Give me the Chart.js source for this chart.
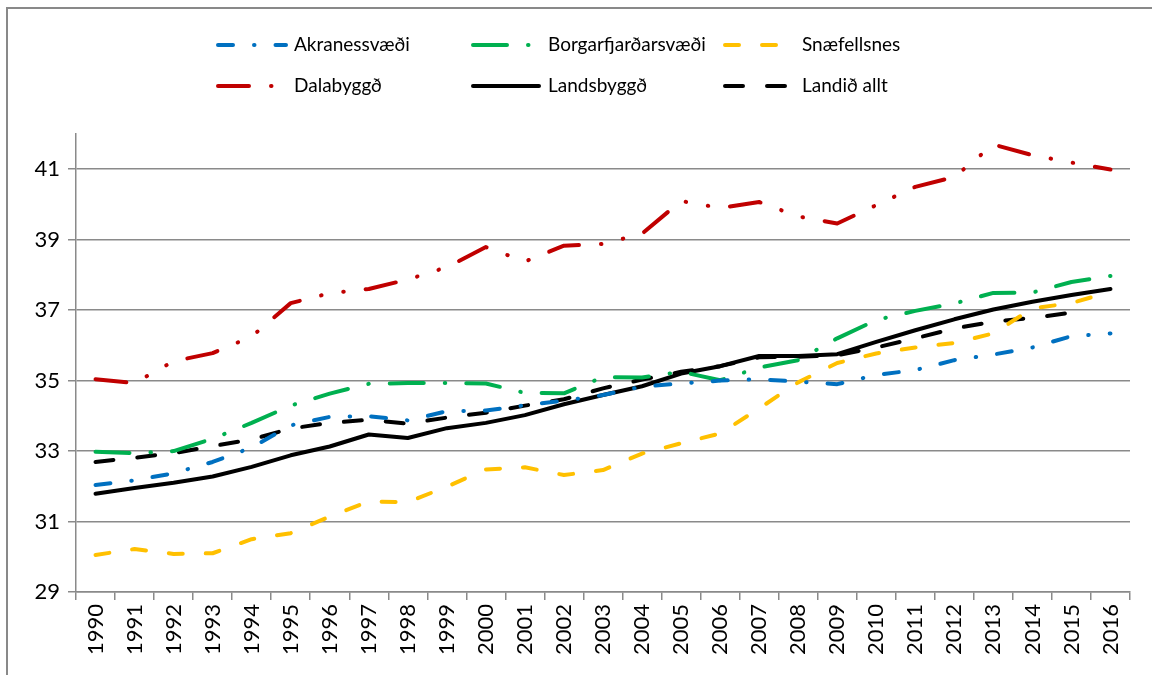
<!DOCTYPE html>
<html>
<head>
<meta charset="utf-8">
<script src="https://cdn.jsdelivr.net/npm/chart.js@4.4.0/dist/chart.umd.min.js"></script>
<style>
    html, body { margin: 0; padding: 0; background: #fff; overflow: hidden; }
    #wrap { position: relative; width: 1152px; height: 675px; }
    #frame {
        position: absolute; left: 6px; top: 7px; width: 1200px; height: 700px;
        border-top: 2px solid #898989; border-left: 2px solid #898989;
        pointer-events: none;
    }
    canvas { position: absolute; left: 0; top: 0; }
</style>
</head>
<body>
<div id="wrap">
    <div id="frame"></div>
    <canvas id="chart" width="1152" height="675"></canvas>
</div>
<script>
// --- gögn ---
const years = ['1990', '1991', '1992', '1993', '1994', '1995', '1996', '1997', '1998', '1999',
    '2000', '2001', '2002', '2003', '2004', '2005', '2006', '2007', '2008', '2009',
    '2010', '2011', '2012', '2013', '2014', '2015', '2016'];

const akranes = [32.04, 32.17, 32.37, 32.69, 33.10, 33.73, 33.97, 33.99, 33.87, 34.13,
    34.15, 34.30, 34.43, 34.59, 34.83, 34.92, 35.00, 35.04, 34.97, 34.90,
    35.16, 35.30, 35.58, 35.74, 35.94, 36.26, 36.34];
const borgarfjordur = [32.98, 32.94, 33.00, 33.35, 33.80, 34.29, 34.63, 34.91, 34.93, 34.93,
    34.92, 34.65, 34.64, 35.10, 35.09, 35.25, 35.01, 35.37, 35.58, 36.20,
    36.72, 36.98, 37.19, 37.49, 37.50, 37.80, 37.97];
const snaefellsnes = [30.05, 30.22, 30.08, 30.10, 30.50, 30.67, 31.14, 31.57, 31.55, 31.99,
    32.48, 32.54, 32.32, 32.46, 32.93, 33.22, 33.50, 34.21, 34.95, 35.50,
    35.77, 35.94, 36.07, 36.34, 37.05, 37.20, 37.52];
const dalabyggd = [35.04, 34.93, 35.55, 35.78, 36.25, 37.20, 37.48, 37.60, 37.87, 38.22,
    38.79, 38.38, 38.83, 38.88, 39.17, 40.10, 39.90, 40.07, 39.66, 39.46,
    39.98, 40.50, 40.78, 41.70, 41.40, 41.19, 40.99];
const landsbyggd = [31.79, 31.95, 32.10, 32.28, 32.55, 32.88, 33.13, 33.47, 33.37, 33.65,
    33.80, 34.02, 34.33, 34.59, 34.84, 35.20, 35.41, 35.70, 35.70, 35.75,
    36.10, 36.43, 36.74, 37.02, 37.24, 37.43, 37.60];
const landidAllt = [32.69, 32.81, 32.94, 33.14, 33.33, 33.64, 33.80, 33.89, 33.78, 33.95,
    34.09, 34.29, 34.47, 34.78, 35.03, 35.25, 35.41, 35.66, 35.68, 35.72,
    35.94, 36.20, 36.48, 36.67, 36.78, 36.93, null];

const yTicks = [29, 31, 33, 35, 37, 39, 41];

Chart.defaults.font.family = 'Lato';
Chart.defaults.color = '#000';

const gridGray = '#8a8a8a';

function line(label, data, color, dash) {
    return {
        label: label,
        data: data,
        borderColor: color,
        backgroundColor: color,
        borderWidth: 4,
        borderDash: dash,
        borderCapStyle: 'round',
        borderJoinStyle: 'round',
        pointRadius: 0,
        tension: 0,
        fill: false
    };
}

// --- legend eins og í Excel: 3 dálkar, 2 raðir ---
const excelLegend = {
    id: 'excelLegend',
    afterDraw(chart) {
        const ctx = chart.ctx;
        const rows = [45, 86];
        const samples = [[218, 286], [473, 539], [725, 788]];
        const textX = [294, 548, 802];
        ctx.save();
        chart.data.datasets.forEach((ds, i) => {
            const col = i % 3;
            const y = rows[Math.floor(i / 3)];
            ctx.beginPath();
            ctx.strokeStyle = ds.borderColor;
            ctx.lineWidth = ds.borderWidth;
            ctx.lineCap = 'round';
            ctx.setLineDash(ds.borderDash);
            ctx.moveTo(samples[col][0], y);
            ctx.lineTo(samples[col][1], y);
            ctx.stroke();
            ctx.setLineDash([]);
            ctx.fillStyle = '#000';
            ctx.font = '19px Lato';
            ctx.textBaseline = 'middle';
            ctx.textAlign = 'left';
            ctx.fillText(ds.label, textX[col], y);
        });
        ctx.restore();
    }
};

new Chart(document.getElementById('chart').getContext('2d'), {
    type: 'line',
    data: {
        labels: years,
        datasets: [
            line('Akranessvæði', akranes, '#0070C0', [15, 21, 0.5, 21]),
            line('Borgarfjarðarsvæði', borgarfjordur, '#00B050', [34, 21, 0.5, 21]),
            line('Snæfellsnes', snaefellsnes, '#FFC000', [14, 23]),
            line('Dalabyggð', dalabyggd, '#C00000', [31, 22, 0.5, 22, 0.5, 22]),
            line('Landsbyggð', landsbyggd, '#000000', []),
            line('Landið allt', landidAllt, '#000000', [18, 24])
        ]
    },
    options: {
        responsive: false,
        animation: false,
        spanGaps: false,
        layout: {
            padding: { left: 0, top: 134, right: 22, bottom: 0 }
        },
        plugins: {
            legend: { display: false },
            tooltip: { enabled: false }
        },
        scales: {
            x: {
                offset: true,
                grid: {
                    offset: true,
                    drawOnChartArea: false,
                    drawTicks: true,
                    tickLength: 8,
                    color: gridGray,
                    lineWidth: 1.5
                },
                border: { color: gridGray, width: 1.5 },
                ticks: {
                    autoSkip: false,
                    minRotation: 90,
                    maxRotation: 90,
                    padding: 4,
                    font: { size: 22 }
                },
                afterFit(scale) { scale.height = 83; }
            },
            y: {
                min: 29,
                max: 42,
                afterBuildTicks(scale) {
                    scale.ticks = yTicks.map(v => ({ value: v }));
                },
                grid: {
                    color: gridGray,
                    lineWidth: 1.5,
                    tickLength: 8
                },
                border: { color: gridGray, width: 1.5 },
                ticks: {
                    padding: 8,
                    font: { size: 22 }
                },
                afterFit(scale) { scale.width = 76; }
            }
        }
    },
    plugins: [excelLegend]
});
</script>
</body>
</html>
